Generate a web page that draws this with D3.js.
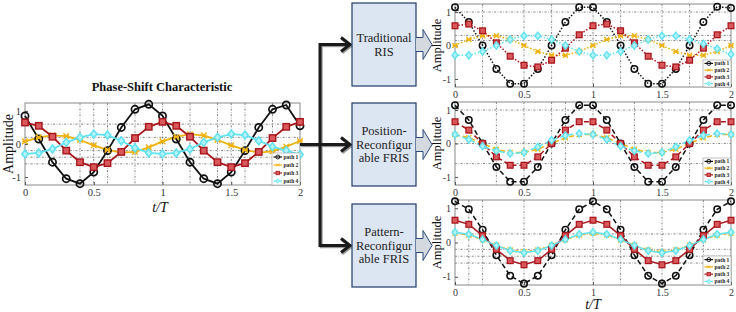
<!DOCTYPE html>
<html>
<head>
<meta charset="utf-8">
<style>
  body { margin: 0; background: #fff; }
  svg { display: block; font-family: "Liberation Serif", "DejaVu Serif", serif; }
</style>
</head>
<body>
<div id="fig"></div>
<script src="https://d3js.org/d3.v7.min.js"></script>
<script>
// sample times and tick labels
const tSamples = [0, 0.1, 0.2, 0.3, 0.4, 0.5, 0.6, 0.7, 0.8, 0.9, 1, 1.1, 1.2, 1.3, 1.4, 1.5, 1.6, 1.7, 1.8, 1.9, 2];
const xTicks = [0, 0.5, 1, 1.5, 2];
const yTicks = [-1, 0, 1];
const pathNames = ['path 1', 'path 2', 'path 3', 'path 4'];

// phase-shift characteristic (left)
const mainPath1 = [0.85, 0.15, -0.55, -1.05, -1.2, -0.85, -0.2, 0.5, 1.05, 1.2, 0.85, 0.15, -0.55, -1.05, -1.2, -0.85, -0.2, 0.5, 1.05, 1.18, 0.55];
const mainPath2 = [0.08, 0.2, 0.26, 0.24, 0.12, -0.04, -0.18, -0.26, -0.24, -0.1, 0.08, 0.22, 0.29, 0.26, 0.12, -0.04, -0.18, -0.26, -0.22, -0.08, 0.09];
const mainPath3 = [0.65, 0.55, 0.22, -0.2, -0.55, -0.7, -0.58, -0.24, 0.18, 0.52, 0.67, 0.55, 0.22, -0.2, -0.55, -0.7, -0.58, -0.24, 0.18, 0.52, 0.67];
const mainPath4 = [-0.3, -0.27, -0.15, 0.05, 0.2, 0.3, 0.27, 0.1, -0.12, -0.27, -0.3, -0.27, -0.15, 0.05, 0.2, 0.3, 0.27, 0.1, -0.08, -0.2, -0.32];

// traditional RIS
const tradPath1 = [1.14, 0.7, 0, -0.7, -1.14, -1.14, -0.7, 0, 0.7, 1.14, 1.14, 0.7, 0, -0.7, -1.14, -1.14, -0.7, 0, 0.7, 1.16, 1.12];
const tradPath2 = [0, 0.18, 0.29, 0.29, 0.18, 0, -0.18, -0.29, -0.29, -0.18, 0, 0.18, 0.29, 0.29, 0.18, 0, -0.18, -0.29, -0.29, -0.18, 0];
const tradPath3 = [0.59, 0.64, 0.44, 0.08, -0.32, -0.59, -0.64, -0.44, -0.08, 0.32, 0.59, 0.64, 0.44, 0.08, -0.32, -0.59, -0.64, -0.44, -0.08, 0.32, 0.59];
const tradPath4 = [-0.29, -0.29, -0.18, 0, 0.18, 0.29, 0.29, 0.18, 0, -0.18, -0.29, -0.29, -0.18, 0, 0.18, 0.29, 0.29, 0.18, 0.05, -0.1, -0.26];

// position-reconfigurable FRIS
const posPath1 = [1.14, 0.7, 0, -0.7, -1.14, -1.14, -0.7, 0, 0.7, 1.14, 1.14, 0.7, 0, -0.7, -1.14, -1.14, -0.7, 0, 0.7, 1.14, 1.14];
const posPath2 = [0.27, 0.17, 0, -0.17, -0.27, -0.27, -0.17, 0, 0.17, 0.27, 0.27, 0.17, 0, -0.17, -0.27, -0.27, -0.17, 0, 0.17, 0.27, 0.27];
const posPath3 = [0.65, 0.4, 0, -0.4, -0.65, -0.65, -0.4, 0, 0.4, 0.65, 0.65, 0.4, 0, -0.4, -0.65, -0.65, -0.4, 0, 0.4, 0.65, 0.65];
const posPath4 = [0.27, 0.12, -0.08, -0.22, -0.3, -0.27, -0.1, 0.1, 0.24, 0.3, 0.27, 0.12, -0.08, -0.22, -0.3, -0.27, -0.1, 0.1, 0.24, 0.3, 0.27];

// pattern-reconfigurable FRIS
const patPath1 = [1.2, 0.97, 0.37, -0.37, -0.97, -1.2, -0.97, -0.37, 0.37, 0.97, 1.2, 0.97, 0.37, -0.37, -0.97, -1.2, -0.97, -0.37, 0.37, 0.97, 1.2];
const patPath2 = [0.27, 0.22, 0.08, -0.08, -0.22, -0.27, -0.22, -0.08, 0.08, 0.22, 0.27, 0.22, 0.08, -0.08, -0.22, -0.27, -0.22, -0.08, 0.08, 0.22, 0.27];
const patPath3 = [0.65, 0.53, 0.2, -0.2, -0.53, -0.65, -0.53, -0.2, 0.2, 0.53, 0.65, 0.53, 0.2, -0.2, -0.53, -0.65, -0.53, -0.2, 0.2, 0.53, 0.65];
const patPath4 = [0.3, 0.24, 0.09, -0.09, -0.24, -0.3, -0.24, -0.09, 0.09, 0.24, 0.3, 0.24, 0.09, -0.09, -0.24, -0.3, -0.24, -0.09, 0.09, 0.24, 0.3];

const boxLabels = [['Traditional', 'RIS'], ['Position-', 'Reconfigur', 'able FRIS'], ['Pattern-', 'Reconfigur', 'able FRIS']];

const W = 736, H = 312;
const svg = d3.select('#fig').append('svg').attr('width', W).attr('height', H);

const styles = [
  {color: '#111111', marker: 'circle'},
  {color: '#efb20f', marker: 'star'},
  {color: '#a8161c', marker: 'square'},
  {color: '#5fe2f2', marker: 'diamond'}
];

function marker(g, type, x, y, s) {
  if (type === 'circle') {
    g.append('circle').attr('cx', x).attr('cy', y).attr('r', 3.6 * s)
      .attr('fill', 'none').attr('stroke', '#111').attr('stroke-width', 1.7 * s);
  } else if (type === 'square') {
    g.append('rect').attr('x', x - 3.2 * s).attr('y', y - 3.2 * s)
      .attr('width', 6.4 * s).attr('height', 6.4 * s)
      .attr('fill', '#d8585b').attr('stroke', '#a8161c').attr('stroke-width', 1.4 * s);
  } else if (type === 'diamond') {
    const r = 4 * s;
    g.append('path').attr('d', `M${x},${y - r}L${x + r * 0.8},${y}L${x},${y + r}L${x - r * 0.8},${y}Z`)
      .attr('fill', '#b5f3fa').attr('stroke', '#5fe2f2').attr('stroke-width', 1.5 * s);
  } else {
    const r = 2.8 * s;
    g.append('path').attr('d', `M${x - r},${y - r}L${x + r},${y + r}M${x - r},${y + r}L${x + r},${y - r}M${x - r},${y}L${x + r},${y}`)
      .attr('stroke', '#efb20f').attr('stroke-width', 1.4 * s).attr('fill', 'none');
  }
}

function panel(cfg) {
  const x = d3.scaleLinear().domain([0, 2]).range([cfg.left, cfg.right]);
  const y = d3.scaleLinear().domain([-1.24, 1.24]).range([cfg.bottom, cfg.top]);
  const g = svg.append('g');

  // grid
  g.selectAll('.gx').data(cfg.gridX).enter().append('line')
    .attr('x1', d => x(d)).attr('x2', d => x(d)).attr('y1', cfg.top).attr('y2', cfg.bottom)
    .attr('stroke', '#333').attr('stroke-width', 0.6).attr('stroke-dasharray', '2,1.5,0.6,1.5');
  g.selectAll('.gy').data(cfg.gridY).enter().append('line')
    .attr('y1', d => y(d)).attr('y2', d => y(d)).attr('x1', cfg.left).attr('x2', cfg.right)
    .attr('stroke', '#333').attr('stroke-width', 0.6).attr('stroke-dasharray', '2,1.5,0.6,1.5');

  g.append('rect').attr('x', cfg.left).attr('y', cfg.top)
    .attr('width', cfg.right - cfg.left).attr('height', cfg.bottom - cfg.top)
    .attr('fill', 'none').attr('stroke', '#8a8a8a').attr('stroke-width', 1);

  // axes
  const xa = g.append('g').attr('transform', `translate(0,${cfg.bottom})`)
    .call(d3.axisBottom(x).tickValues(xTicks).tickSize(-3).tickPadding(4).tickFormat(d => String(d)));
  const ya = g.append('g').attr('transform', `translate(${cfg.left},0)`)
    .call(d3.axisLeft(y).tickValues(yTicks).tickSize(-3).tickPadding(4).tickFormat(d => String(d)));
  [xa, ya].forEach(a => {
    a.select('.domain').remove();
    a.selectAll('line').attr('stroke', '#555');
    a.selectAll('text').attr('font-family', '"Liberation Serif", serif')
      .attr('font-size', cfg.tickFont).attr('fill', '#333');
  });

  g.append('text').attr('transform', `translate(${cfg.ylabX},${(cfg.top + cfg.bottom) / 2}) rotate(-90)`)
    .attr('text-anchor', 'middle').attr('dy', '0.35em')
    .attr('font-size', cfg.ylabFont).attr('fill', '#111').text('Amplitude');

  // series
  const line = d3.line().x((d, i) => x(tSamples[i])).y(d => y(d));
  cfg.series.forEach((s, k) => {
    g.append('path').datum(s).attr('d', line).attr('fill', 'none')
      .attr('stroke', styles[k].color).attr('stroke-width', cfg.lw)
      .attr('stroke-dasharray', cfg.dash[k]);
  });
  cfg.series.forEach((s, k) => {
    s.forEach((v, i) => marker(g, styles[k].marker, x(tSamples[i]), y(v), cfg.ms));
  });

  // legend
  const L = cfg.legend;
  g.append('rect').attr('x', L.x).attr('y', L.y).attr('width', L.w).attr('height', L.h)
    .attr('fill', '#fff').attr('stroke', '#999').attr('stroke-width', 0.6);
  pathNames.forEach((name, k) => {
    const ry = L.y + L.h / 4 * (k + 0.5);
    g.append('line').attr('x1', L.x + 1.5).attr('x2', L.x + 10).attr('y1', ry).attr('y2', ry)
      .attr('stroke', styles[k].color).attr('stroke-width', 1.2);
    marker(g, styles[k].marker, L.x + 5.8, ry, 0.55);
    g.append('text').attr('x', L.x + 11.5).attr('y', ry).attr('dy', '0.35em')
      .attr('font-size', 5.5).attr('font-weight', 'bold').attr('fill', '#222').text(name);
  });
}

// left chart
svg.append('text').attr('x', 162).attr('y', 91).attr('text-anchor', 'middle')
  .attr('font-size', 12.5).attr('font-weight', 'bold').attr('fill', '#111')
  .text('Phase-Shift Characteristic');

panel({left: 25, right: 300, top: 103, bottom: 185, tickFont: 10.5, ylabX: 8, ylabFont: 14,
  series: [mainPath1, mainPath2, mainPath3, mainPath4], dash: [null, null, null, null], lw: 1.8, ms: 1,
  gridX: [0.4, 0.5, 0.6, 0.8, 1, 1.2, 1.4, 1.5, 1.6, 1.8], gridY: [0.6, 0.2, -0.2, -0.4, -0.6],
  legend: {x: 272, y: 153, w: 28, h: 32}});

svg.append('text').attr('x', 160).attr('y', 212).attr('text-anchor', 'middle')
  .attr('font-size', 14).attr('font-style', 'italic').attr('fill', '#111').text('t/T');

// right charts
panel({left: 455, right: 731, top: 4, bottom: 87, tickFont: 10, ylabX: 437, ylabFont: 12.5,
  series: [tradPath1, tradPath2, tradPath3, tradPath4], dash: ['1.5,1.8', '1.5,1.8', '1.5,1.8', '1.5,1.8'], lw: 1.5, ms: 0.9,
  gridX: [0.2, 0.5, 0.7, 1, 1.2, 1.5, 1.7], gridY: [1, 0.3, 0.15],
  legend: {x: 703, y: 60, w: 28, h: 27}});

panel({left: 455, right: 731, top: 102, bottom: 185, tickFont: 10, ylabX: 437, ylabFont: 12.5,
  series: [posPath1, posPath2, posPath3, posPath4], dash: ['5,3', '5,3', '5,3', '5,3'], lw: 1.5, ms: 0.9,
  gridX: [0.3, 0.5, 0.7, 0.8, 1, 1.3, 1.5, 1.7], gridY: [1, 0, -0.6],
  legend: {x: 703, y: 158, w: 28, h: 27}});

panel({left: 455, right: 731, top: 200, bottom: 285, tickFont: 10, ylabX: 437, ylabFont: 12.5,
  series: [patPath1, patPath2, patPath3, patPath4], dash: ['5,3', '3,1.5,1,1.5', null, null], lw: 1.5, ms: 0.9,
  gridX: [0.1, 0.2, 0.5, 1, 1.2, 1.5, 1.8], gridY: [0.25, -0.2, -0.4, -0.6],
  legend: {x: 703, y: 256, w: 28, h: 29}});

svg.append('text').attr('x', 593).attr('y', 309).attr('text-anchor', 'middle')
  .attr('font-size', 14).attr('font-style', 'italic').attr('fill', '#111').text('t/T');

// connectors
const boxY = [3, 103, 204];
const boxH = 83;
const arrowY = boxY.map(v => v + boxH / 2);
const conn = svg.append('g').attr('fill', 'none').attr('stroke-linejoin', 'miter');
[['#9a9a9a', 1.2], ['#1a1a1a', 0]].forEach(([c, off]) => {
  const gg = conn.append('g').attr('transform', `translate(${off},${off})`).attr('stroke', c).attr('stroke-width', 3);
  gg.append('line').attr('x1', 300).attr('x2', 320).attr('y1', arrowY[1]).attr('y2', arrowY[1]);
  gg.append('line').attr('x1', 320).attr('x2', 320).attr('y1', arrowY[0] - 1.5).attr('y2', arrowY[2] + 1.5);
  arrowY.forEach(ay => {
    gg.append('line').attr('x1', 320).attr('x2', 349).attr('y1', ay).attr('y2', ay);
    gg.append('polyline').attr('points', `341,${ay - 7} 350,${ay} 341,${ay + 7}`);
  });
});

// boxes and block arrows
boxY.forEach((by, i) => {
  svg.append('rect').attr('x', 352).attr('y', by).attr('width', 64).attr('height', boxH)
    .attr('fill', '#dce6f2').attr('stroke', '#1f3a68').attr('stroke-width', 1.2);
  const lines = boxLabels[i];
  lines.forEach((t, j) => {
    svg.append('text').attr('x', 384).attr('y', by + boxH / 2 + (j - (lines.length - 1) / 2) * 13.5)
      .attr('dy', '0.35em').attr('text-anchor', 'middle').attr('font-size', 12.5).attr('fill', '#222').text(t);
  });
  const cy = by + boxH / 2;
  svg.append('path')
    .attr('d', `M416,${cy - 7}L423,${cy - 7}L423,${cy - 15}L432,${cy}L423,${cy + 15}L423,${cy + 7}L416,${cy + 7}`)
    .attr('fill', '#d3d9df').attr('stroke', '#2a4a7a').attr('stroke-width', 1);
});
</script>
</body>
</html>
